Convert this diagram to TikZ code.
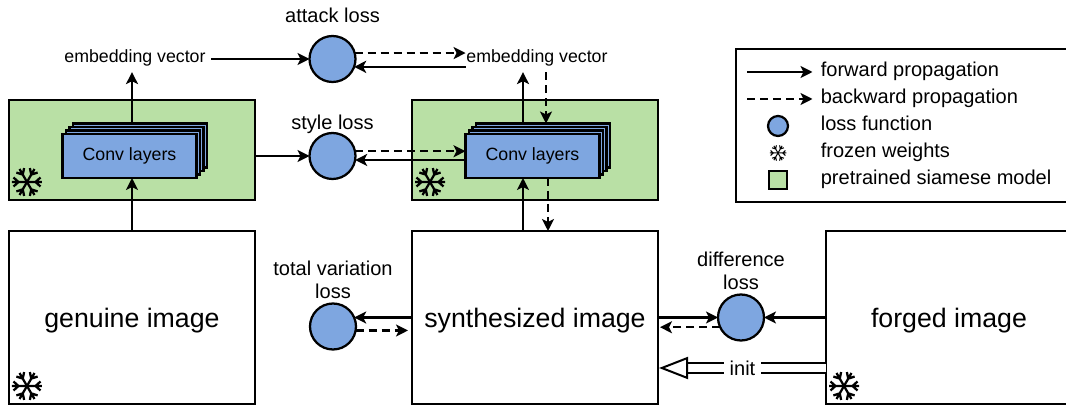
\documentclass[tikz,border=0pt]{standalone}
\usepackage{fontspec}
\setmainfont{Liberation Sans}
\usetikzlibrary{arrows.meta, positioning}
\definecolor{lossblue}{HTML}{7EA6E0}
\definecolor{modelgreen}{HTML}{B9E0A5}
\tikzset{
    flake/.pic={
        \foreach \a in {0,60,...,300}{
            \draw[rotate=\a] (0,0) -- (.3,0) (.27,.09) -- (.17,0) -- (.27,-.09);
        }
    },
    fwd/.style={-{Stealth[length=.24cm,width=.24cm,inset=.06cm]}},
    bwd/.style={fwd, dash pattern=on .16cm off .1cm},
    img/.style={draw, fill=white, minimum width=4.92cm, minimum height=3.46cm, font=\fontsize{15.2}{18}\selectfont, text height=14.3pt, text depth=3.2pt},
    model/.style={draw, fill=modelgreen, minimum width=4.92cm, minimum height=2cm},
    conv/.style={draw, fill=lossblue, minimum width=2.68cm, minimum height=.88cm},
    loss/.style={circle, draw, fill=lossblue, minimum size=.92cm, inner sep=0pt},
    txt/.style={text height=7.3pt, text depth=2.1pt},
    big/.style={font=\fontsize{11.4}{13.6}\selectfont}
}
\begin{document}
\begin{tikzpicture}[line width=.045cm, every node/.style={font=\fontsize{10.1}{13.6}\selectfont, outer sep=0pt}]
    \clip[use as bounding box] (-2.64,-1.85) rectangle (18.68,6.35);
    % images and models
    \node[img, anchor=center](gen){genuine image};
    \node[img, right=3.14cm of gen](syn){synthesized image};
    \node[img, right=3.36cm of syn](forg){forged image};
    \node[model, above=.62cm of gen](gA){};
    \node[model, above=.62cm of syn](gB){};
    \foreach \g in {A,B}{
        \foreach \i in {3,2,1}{
            \node[conv] (c\g\i) at ([xshift=-.05cm+\i*.07cm, yshift=-.12cm+\i*.07cm]g\g) {};
        }
        \node[conv] (c\g) at ([xshift=-.05cm, yshift=-.12cm]g\g) {Conv layers};
    }
    \foreach \n in {gA,gB,gen,forg}{
        \pic at ([shift={(.36,.36)}]\n.south west) {flake};
    }
    % losses
    \node[loss, right=2.26cm of cA, label={[big, txt, label distance=-.13cm]above:style loss}](sty){};
    \node[loss, above=1.02cm of sty, label={[big, txt, label distance=.07cm]above:attack loss}](atk){};
    \node[loss, left=1.12cm of syn, yshift=-.18cm, label={[big, align=center, label distance=-.03cm]above:total variation\\loss}](tv){};
    \node[loss, right=1.2cm of syn, label={[big, align=center, label distance=-.03cm]above:difference\\loss}](dif){};
    \node[txt] (embA) at ([xshift=.06cm, yshift=.84cm]gA.north) {embedding vector};
    \node[txt] (embB) at ([xshift=.04cm, yshift=.84cm]gB.north) {embedding vector};
    \coordinate[right=.1cm of embB.west](ebw);
    \coordinate[right=.18cm of embB.south](ebs);
    \coordinate[left=.24cm of syn.north](sxl);
    \coordinate[right=.26cm of syn.north](sxr);
    % left branch
    \draw[fwd] (gen.north) -- (gen.north |- cA.south);
    \draw[fwd] (gen.north |- cA3.north) -- (gen.north |- embA.south);
    \draw[fwd] (embA.east |- atk.west) -- (atk.west);
    \draw[fwd] (gA.east |- sty.west) -- (sty.west);
    % right branch
    \draw[fwd] (sxl) -- (sxl |- cB.south);
    \draw[bwd] (sxr |- cB.south) -- (sxr);
    \draw[fwd] (sxl |- cB3.north) -- (sxl |- embB.south);
    \draw[bwd] (ebs) -- (ebs |- cB3.north);
    \draw[bwd] (atk.15) -- (atk.15 -| ebw);
    \draw[fwd] (atk.-20 -| ebw) -- (atk.-20);
    \draw[bwd] (sty.12) -- (sty.12 -| cB.west);
    \draw[fwd] (sty.-10 -| cB.west) -- (sty.-10);
    % synthesized image
    \draw[fwd] (tv.23 -| syn.west) -- (tv.23);
    \draw[bwd] (tv.-10) -- ([xshift=-.08cm]tv.-10 -| syn.west);
    \draw[fwd] (syn.east |- dif.west) -- (dif.west);
    \draw[bwd] (dif.205) -- ([xshift=.04cm]dif.205 -| syn.east);
    \draw[fwd] (forg.west |- dif.east) -- (dif.east);
    \coordinate (fi) at ([yshift=-1.01cm]forg.west);
    \draw[line width=.04cm, double, double distance=.17cm, -{Triangle[open, fill=white, length=.58cm, width=.44cm]}] (fi) -- ([xshift=.02cm]fi -| syn.east) node[midway, fill=white, big](ini){init};
    % legend
    \node[draw, minimum width=6.72cm, minimum height=3.06cm, right=1.56cm of gB, yshift=.49cm](lg){};
    \foreach \i/\t in {1/forward propagation, 2/backward propagation, 3/loss function, 4/frozen weights, 5/pretrained siamese model}{
        \node[big, txt, anchor=west] (lt\i) at ([xshift=1.58cm, yshift=1.07cm-\i*.54cm+.54cm]lg.west) {\t};
    }
    \draw[fwd] ([xshift=-1.36cm]lt1.west) -- ([xshift=-.05cm]lt1.west);
    \draw[bwd] ([xshift=-1.36cm]lt2.west) -- ([xshift=-.05cm]lt2.west);
    \node[loss, minimum size=.4cm] (lc) at ([xshift=-.74cm]lt3.west) {};
    \pic[scale=.55, line width=.02cm] at ([xshift=-.74cm]lt4.west) {flake};
    \node[draw, fill=modelgreen, minimum size=.36cm, inner sep=0pt] (lm) at ([xshift=-.74cm]lt5.west) {};
\end{tikzpicture}
\end{document}
